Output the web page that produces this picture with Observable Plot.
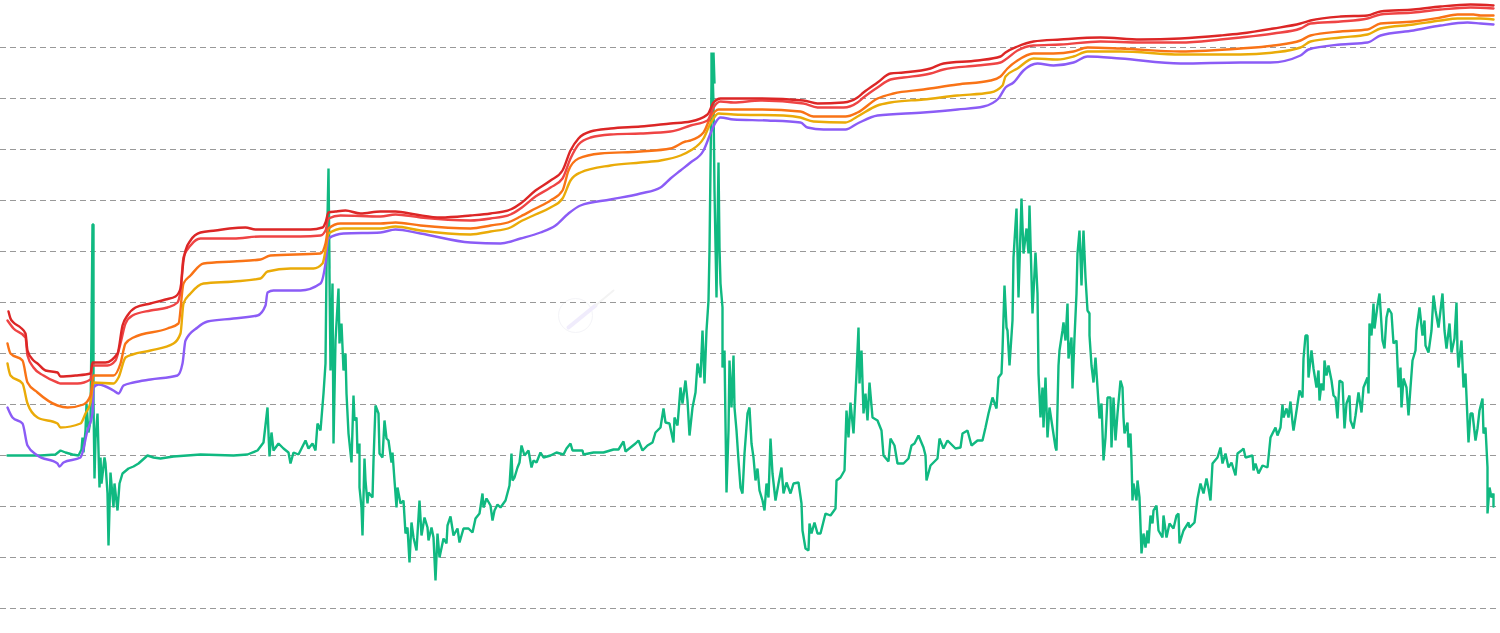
<!DOCTYPE html>
<html>
<head>
<meta charset="utf-8">
<script src="https://cdn.jsdelivr.net/npm/d3@7"></script>
<script src="https://cdn.jsdelivr.net/npm/@observablehq/plot@0.6"></script>
<style>
html,body{margin:0;padding:0;background:#fff;overflow:hidden}
svg{display:block}
</style>
</head>
<body>
<div id="chart"></div>
<script>
const gridLevels = [0,51,102,153,204,255,306,357,408,459,510,561];

const redTop = [[8,297],[10,290],[13,286],[20,281],[25,275],[27,258],[33,248],[37,245],[45,238],[57,236],[60,232],[75,233],[90,235],[92,246],[105,246],[117,255],[122,283],[127,293],[135,301],[150,305],[165,309],[175,312],[180,320],[183,348],[185,358],[190,368],[200,376],[215,378],[229,380],[245,381],[255,379],[290,379],[310,379],[322,381],[325,386],[328,396],[335,397],[345,398],[360,395],[380,397],[395,397],[415,394],[440,391],[470,393],[490,395],[510,399],[520,405],[535,418],[550,428],[562,438],[570,458],[578,470],[590,477],[610,480],[640,482],[670,485],[690,487],[707,494],[713,506],[720,510],[733,510],[760,510],[803,508],[817,505],[843,506],[857,511],[863,516],[877,526],[890,535],[903,536],[930,540],[943,545],[977,548],[1000,552],[1005,556],[1017,562],[1033,567],[1060,569],[1100,571],[1140,569],[1180,570],[1220,573],[1240,575],[1273,580],[1300,585],[1310,588],[1340,592],[1367,593],[1380,597],[1413,599],[1440,602],[1470,604],[1493,603]];
const redSecond = [[7,288],[13,280],[25,271],[27,253],[33,241],[43,233],[57,226],[60,225],[77,225],[90,229],[92,243],[107,243],[115,248],[120,265],[125,285],[132,293],[150,298],[167,301],[177,306],[180,318],[183,351],[190,363],[200,370],[233,370],[260,372],[300,372],[320,373],[325,378],[328,390],[340,393],[380,392],[395,394],[420,391],[470,388],[490,390],[510,394],[520,400],[535,412],[550,421],[562,430],[570,450],[578,464],[590,471],[610,474],[640,475],[670,477],[690,483],[707,488],[713,501],[720,507],[733,506],[760,508],[803,505],[817,501],[843,501],[857,506],[863,511],[877,521],[890,529],[903,531],[930,535],[943,539],[977,543],[1000,546],[1005,549],[1017,558],[1033,563],[1060,564],[1100,567],[1140,566],[1180,566],[1220,569],[1240,571],[1273,575],[1300,580],[1310,585],[1340,587],[1367,590],[1380,594],[1413,596],[1440,599],[1470,601],[1493,600]];
const orangeBand = [[7,265],[10,255],[22,248],[27,226],[37,216],[57,203],[67,201],[83,204],[90,213],[93,233],[113,233],[120,245],[125,265],[133,271],[167,280],[178,285],[183,325],[190,333],[203,345],[233,347],[260,349],[270,353],[320,355],[325,365],[328,380],[340,385],[380,385],[395,386],[420,383],[470,380],[490,383],[510,387],[520,392],[535,400],[550,408],[562,418],[568,438],[578,450],[600,455],[640,457],[670,460],[685,467],[690,468],[703,476],[710,491],[718,499],[733,499],[757,499],[800,497],[813,492],[845,492],[857,496],[877,510],[893,515],[923,519],[957,524],[990,528],[1000,532],[1007,540],[1017,548],[1033,555],[1053,555],[1073,557],[1087,561],[1120,560],[1180,557],[1240,560],[1273,563],[1300,568],[1310,573],[1340,577],[1367,579],[1380,585],[1413,587],[1440,591],[1457,594],[1473,594],[1480,593],[1493,593]];
const amberBand = [[7,245],[10,233],[22,225],[27,205],[37,191],[57,185],[60,181],[80,185],[85,195],[90,206],[93,226],[113,225],[118,231],[125,251],[132,254],[150,258],[173,265],[180,275],[183,305],[190,315],[203,325],[233,327],[260,330],[267,337],[290,340],[313,340],[322,345],[325,358],[328,375],[343,380],[380,380],[395,382],[420,378],[470,374],[490,377],[510,381],[520,387],[535,394],[550,401],[562,410],[570,428],[580,436],[610,443],[640,446],[660,448],[680,453],[690,458],[703,470],[710,485],[718,495],[733,494],[783,493],[800,491],[813,487],[845,486],[857,492],[877,503],[890,506],[923,509],[957,513],[990,516],[1002,523],[1005,532],[1017,540],[1033,550],[1057,549],[1073,552],[1087,557],[1120,557],[1180,554],[1240,554],[1273,556],[1300,561],[1310,567],[1340,571],[1367,574],[1380,580],[1413,584],[1440,588],[1457,590],[1480,590],[1493,589]];
const violetBand = [[7,201],[12,191],[22,185],[27,163],[37,153],[57,145],[59,142],[63,146],[80,151],[87,178],[92,195],[93,221],[98,224],[113,218],[118,215],[123,223],[133,226],[150,229],[177,233],[182,245],[185,268],[197,281],[207,287],[233,290],[257,293],[265,303],[267,316],[273,318],[300,318],[320,325],[325,345],[328,370],[343,375],[380,376],[395,379],[420,375],[470,366],[500,365],[520,370],[540,376],[555,383],[568,395],[580,403],[610,409],[640,415],[660,421],[670,430],[680,438],[690,446],[703,458],[710,475],[715,486],[720,491],[733,489],[767,488],[800,486],[807,481],[823,479],[845,479],[857,485],[877,493],[923,496],[957,499],[983,502],[998,510],[1005,521],[1013,526],[1023,538],[1037,545],[1053,543],[1073,546],[1087,552],[1120,550],[1180,545],[1240,546],[1270,546],[1300,553],[1308,559],[1340,564],[1367,566],[1380,573],[1413,578],[1440,583],[1467,586],[1480,585],[1493,584]];

const greenPart1 = [[7,153],[40,153],[55,154],[60,158],[65,156],[72,154],[78,153],[81,159],[82,171],[83,156],[85,178],[86,205],[88,176],[90,188],[91,278],[92,384],[93,384],[92,260],[93,384],[93,208],[94,130],[95,170],[97,195],[98,158],[99,121],[100,151],[101,125],[104,151],[105,145],[107,115],[108,63],[110,136],[113,101],[114,125],[117,98],[119,125],[122,135],[128,140],[133,142],[138,145],[147,153],[153,151],[160,150],[173,152],[200,154],[233,153],[247,154],[257,158],[263,166],[267,201],[268,175],[269,152],[271,176],[273,158],[278,165],[283,160],[288,156],[290,145],[293,156],[298,154],[305,168],[308,160],[312,165],[315,158],[317,185],[320,178],[323,215],[325,245],[326,341],[328,440],[329,340],[328,430],[330,238],[332,325],[333,165],[335,268],[338,320],[339,265],[341,285],[343,238],[345,255],[346,215],[348,175],[351,146],[353,213],[354,188],[356,191],[357,155],[359,165],[359,121],[361,101],[362,73],[364,150],[365,128],[367,105],[368,116],[372,111],[373,148],[375,203],[378,195],[379,155],[382,151],[384,188],[386,170],[388,168],[391,146],[392,156],[394,128],[396,101],[397,121],[400,105],[403,108],[405,75],[407,81],[409,46],[411,86],[413,71],[416,58],[419,108],[421,73],[424,91],[427,81],[428,68],[431,81],[433,71],[435,28],[437,75],[439,51],[443,70],[446,65],[447,83],[450,92],[453,73],[457,80],[459,66],[463,80],[468,80],[472,76],[475,90],[479,95],[482,115],[483,101],[486,110],[490,103],[492,88],[494,98],[497,104],[500,101],[505,108],[509,123],[511,155],[512,128],[514,131],[517,141],[519,146],[521,163],[524,153],[528,158],[531,141],[533,148],[536,146],[540,156],[543,151],[550,153],[556,156],[563,154],[566,160],[570,165],[572,158],[582,158],[583,154],[593,156],[603,156],[613,159],[618,159],[623,167],[625,157],[630,161],[635,165],[638,168],[642,158],[647,163],[652,166],[655,176],[660,181],[663,200],[665,186],[669,185],[673,166],[674,191],[677,183],[680,221],[682,205],[685,228],[687,208],[689,173],[692,201],[695,216],[697,245],[700,231],[702,278],[704,225],[706,278],[708,308],[709,358],[711,525],[711,556],[712,525],[712,556],[713,525],[713,556],[714,525],[712,540],[713,505],[714,418],[716,311],[718,446],[719,361],[720,325],[722,301],[722,241],[724,258],[725,185],[726,116],[728,178],[729,248],[731,201],[733,253],[734,201],[736,178],[738,148],[740,121],[742,115],[744,155],[747,195],[749,201],[751,165],[753,151],[755,128],[757,140],[759,118],[762,108],[764,98],[766,125],[768,111],[770,170],[772,135],[775,108],[778,125],[781,141],[783,115],[786,126],[790,115],[793,125],[798,126],[801,105],[802,78],[805,60],[808,58],[809,85],[811,75],[814,86],[817,75],[820,75],[825,95],[830,93],[835,100],[836,128],[840,131],[844,138],[846,198],[848,171],[850,206],[853,175],[856,235],[858,281],[859,225],[861,258],[863,195],[865,215],[867,188],[869,226],[872,191],[877,188],[881,178],[883,153],[888,147],[890,170],[894,163],[897,145],[903,145],[908,150],[911,163],[914,165],[918,173],[923,161],[925,153],[926,128],[930,143],[937,150],[939,170],[943,160],[947,168],[952,163],[955,160],[960,161],[962,175],[967,178],[971,163],[977,168],[982,168],[985,181],[988,195],[992,211],[996,200],[998,231],[1001,235],[1002,258],[1004,323],[1006,281],[1007,278],[1009,243],[1012,288],[1013,351],[1016,400],[1018,311],[1021,410],[1023,355],[1026,380],[1028,355],[1029,403],[1032,295],[1035,356],[1037,315],[1038,235],[1040,191],[1042,221],[1043,181],[1045,231],[1047,171],[1049,201],[1052,181],[1055,161]];
const greenPart2 = [[1056,158],[1058,243],[1059,258],[1062,278],[1063,286],[1065,268],[1067,305],[1068,250],[1071,271],[1072,220],[1074,271],[1076,315],[1077,355],[1079,378],[1081,323],[1082,355],[1083,378],[1085,331],[1087,298],[1089,295],[1089,273],[1091,243],[1093,226],[1095,251],[1097,221],[1099,190],[1101,205],[1103,148],[1105,171],[1107,211],[1110,211],[1111,161],[1113,211],[1115,168],[1117,195],[1120,228],[1122,221],[1123,191],[1124,175],[1127,186],[1128,161],[1130,175],[1131,148],[1132,108],[1133,125],[1136,108],[1137,128],[1139,111],[1141,55],[1143,75],[1145,61],[1147,78],[1148,65],[1150,93],[1152,85],[1153,98],[1156,103],[1158,78],[1162,71],[1163,93],[1166,71],[1169,85],[1173,80],[1176,93],[1178,95],[1179,65],[1183,78],[1188,86],[1189,81],[1194,86],[1197,110],[1200,125],[1203,115],[1206,130],[1208,120],[1210,108],[1212,145],[1217,151],[1220,161],[1222,145],[1225,155],[1228,141],[1231,146],[1235,133],[1237,155],[1241,158],[1243,160],[1245,151],[1252,153],[1253,138],[1255,145],[1258,135],[1262,143],[1267,141],[1270,171],[1275,181],[1277,173],[1280,181],[1282,204],[1283,191],[1286,200],[1288,191],[1290,207],[1292,186],[1293,178],[1295,191],[1299,218],[1302,211],[1303,250],[1305,273],[1307,273],[1308,231],[1311,258],[1313,240],[1316,221],[1318,238],[1319,208],[1321,225],[1323,218],[1324,248],[1326,233],[1328,243],[1331,228],[1333,213],[1335,211],[1337,190],[1339,228],[1342,226],[1344,180],[1346,205],[1349,213],[1350,188],[1353,180],[1355,193],[1358,216],[1361,196],[1363,221],[1367,231],[1368,215],[1369,285],[1371,273],[1373,305],[1374,280],[1377,303],[1379,315],[1382,268],[1384,260],[1386,291],[1388,300],[1391,295],[1393,265],[1396,268],[1398,221],[1400,241],[1401,201],[1403,230],[1406,221],[1408,193],[1410,221],[1412,248],[1415,258],[1416,278],[1419,301],[1422,273],[1424,288],[1425,263],[1428,256],[1431,278],[1433,313],[1435,298],[1438,281],[1442,315],[1444,278],[1446,260],[1449,285],[1451,256],[1454,270],[1456,306],[1457,258],[1458,241],[1461,268],[1463,221],[1465,235],[1468,166],[1470,195],[1472,195],[1475,168],[1477,180],[1479,198],[1482,210],[1483,175],[1485,181],[1487,141],[1487,95],[1489,121],[1491,111],[1493,115],[1493,102]];
const greenLine = greenPart1.concat(greenPart2);

const logoRing = [[575,293]];
const logoTailThick = [[568,281],[595,303]];
const logoTailThin = [[595,303],[613,318]];

const bandSeries = [
  [violetBand, "#8b5cf6"],
  [amberBand, "#eaab08"],
  [orangeBand, "#f97316"],
  [redSecond, "#ef4444"],
  [redTop, "#dc2626"]
];

const chart = Plot.plot({
  width: 1500,
  height: 633,
  marginTop: 0, marginRight: 0, marginBottom: 0, marginLeft: 0,
  x: {domain: [0, 1500], axis: null},
  y: {domain: [-25, 608], axis: null},
  style: {background: "#fff"},
  marks: [
    Plot.dot(logoRing, {x: d => d[0], y: d => d[1], r: 17, stroke: "#f4f4f8", strokeWidth: 1, fill: "none"}),
    Plot.line(logoTailThick, {x: d => d[0], y: d => d[1], stroke: "#f0ecfc", strokeWidth: 4}),
    Plot.line(logoTailThin, {x: d => d[0], y: d => d[1], stroke: "#f3f3f3", strokeWidth: 2}),
    Plot.ruleY(gridLevels, {x1: 0, x2: 1496, stroke: "#999999", strokeWidth: 1, strokeDasharray: "6 4"}),
    Plot.line(greenLine, {x: d => d[0], y: d => d[1], stroke: "#10b981", strokeWidth: 2.4, curve: "linear", strokeLinejoin: "miter"}),
    ...bandSeries.map(([data, color]) =>
      Plot.line(data, {x: d => d[0], y: d => d[1], stroke: color, strokeWidth: 2.4, curve: "monotone-x"}))
  ]
});
document.getElementById("chart").appendChild(chart);
</script>
</body>
</html>
